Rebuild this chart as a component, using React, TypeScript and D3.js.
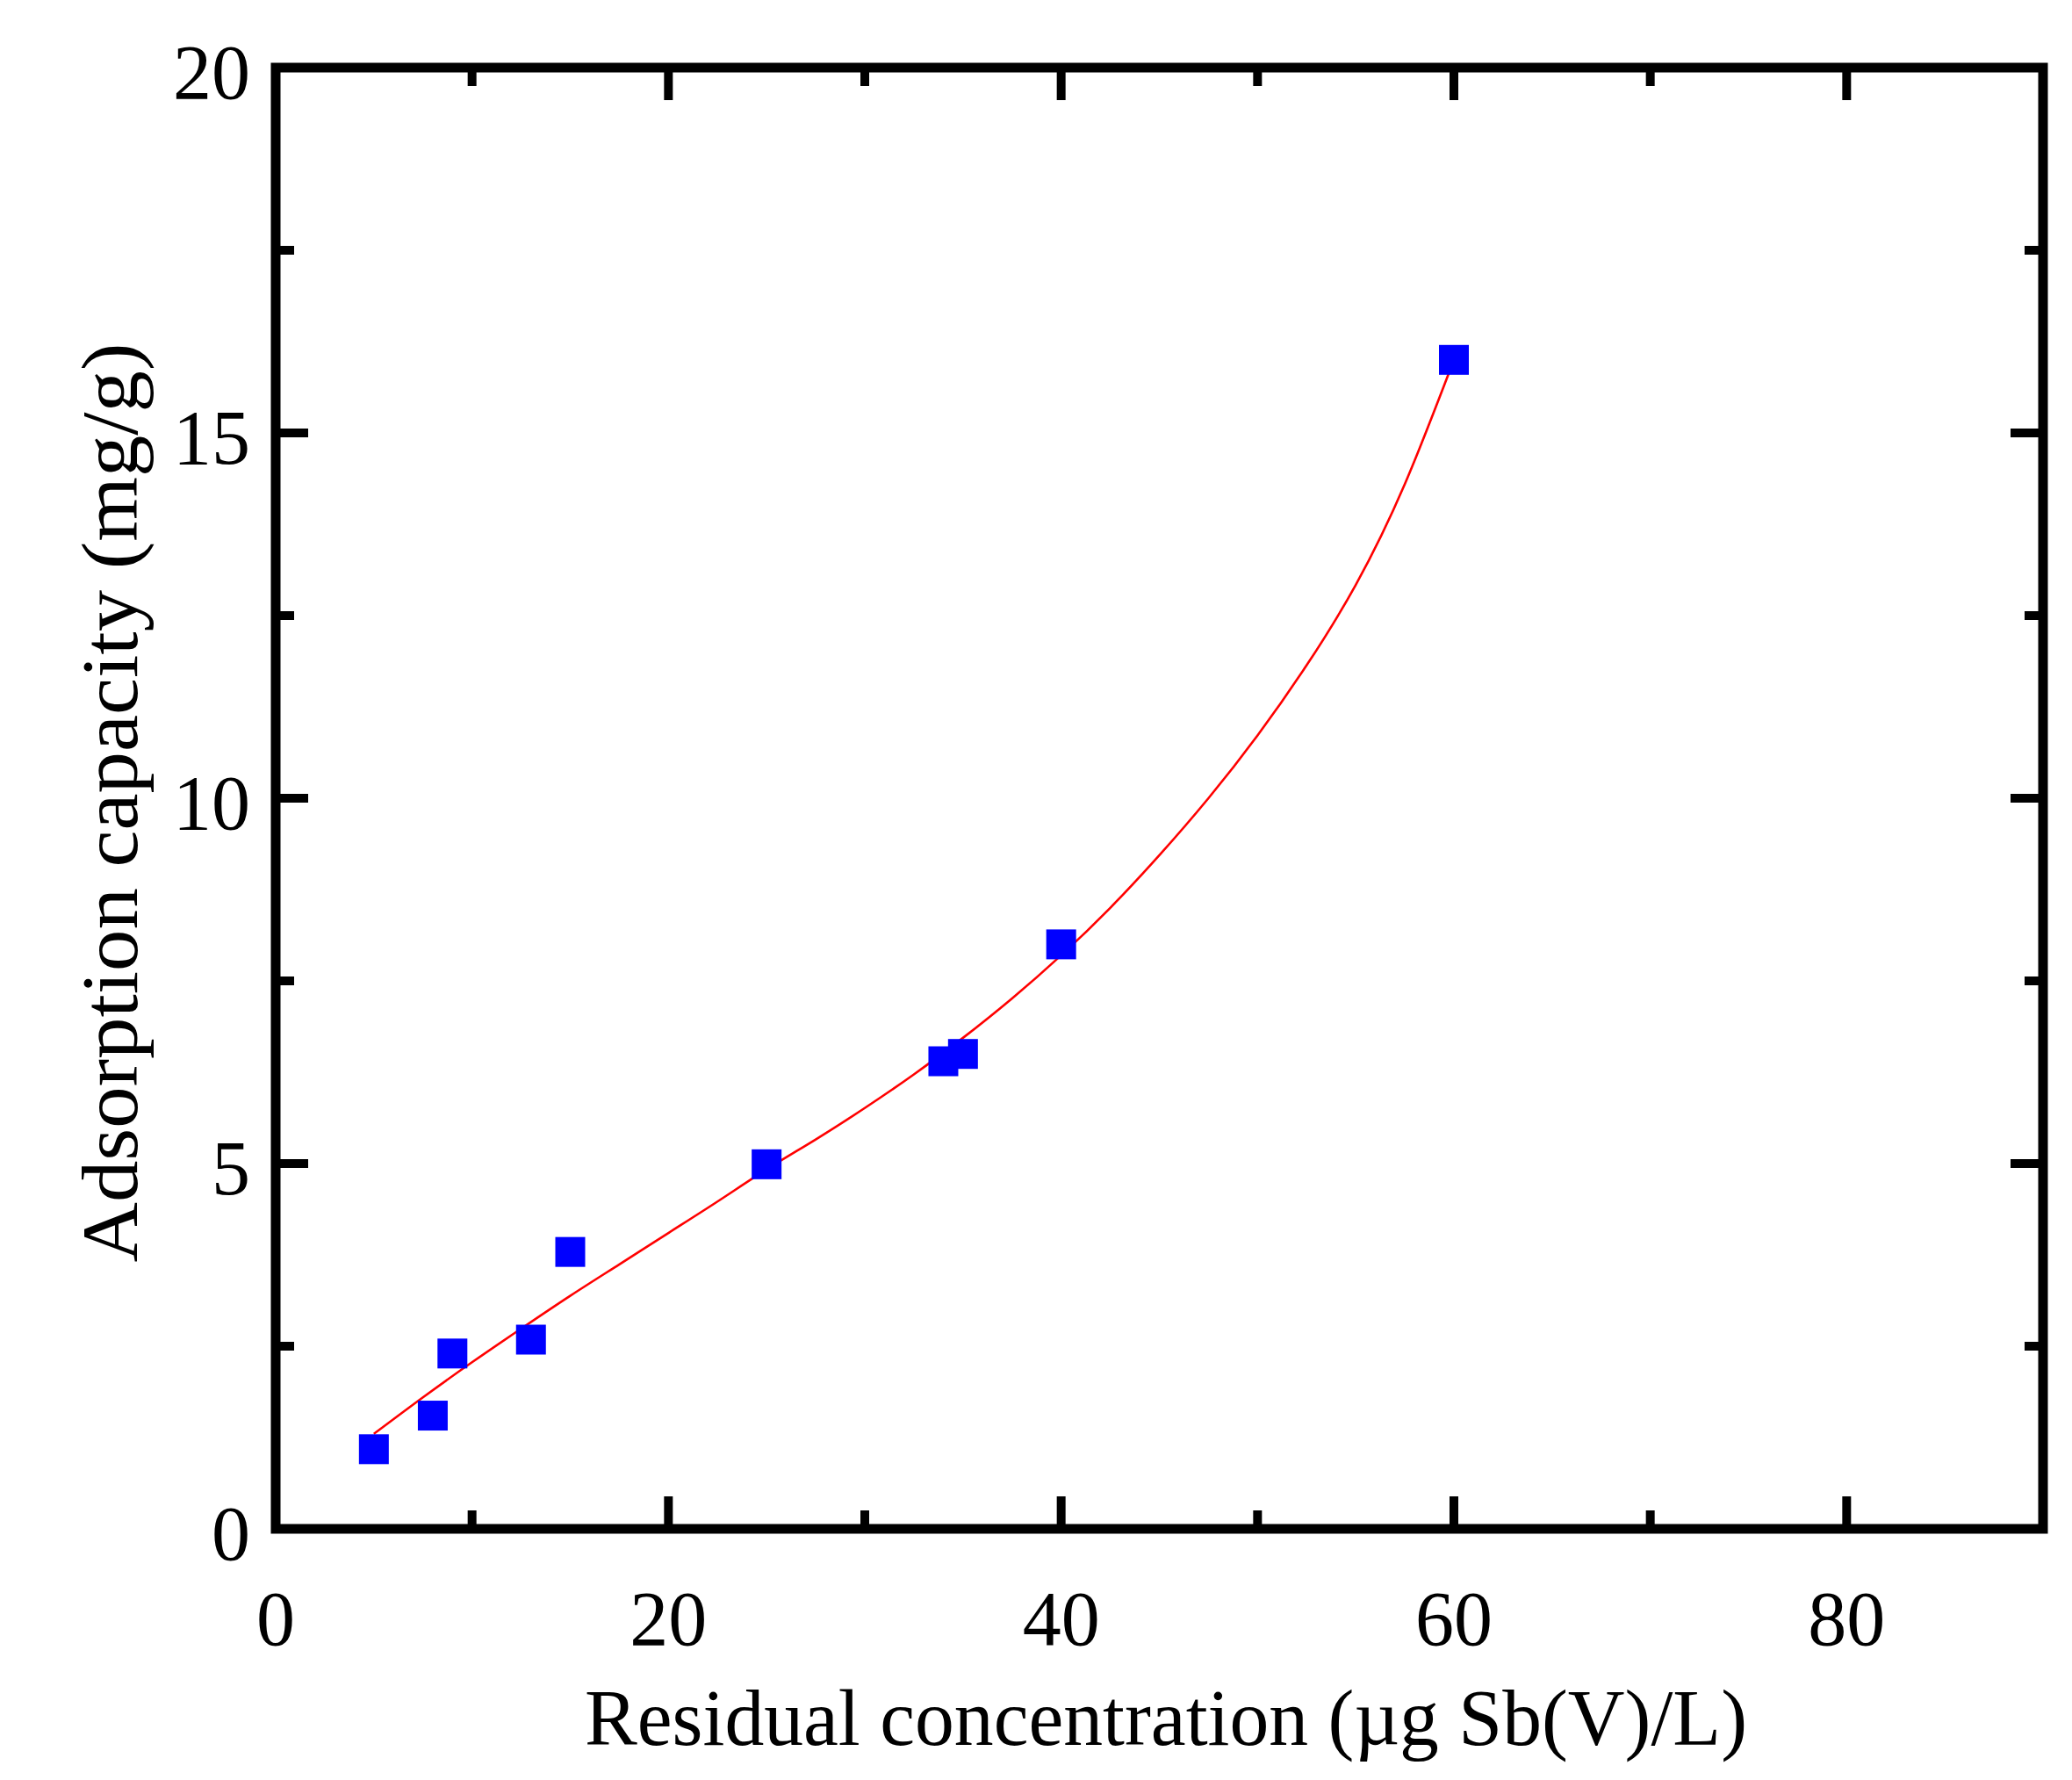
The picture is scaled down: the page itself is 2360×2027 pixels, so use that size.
import React from "react";
import * as d3 from "d3";

const W = 2360;
const H = 2027;

// Measured data (residual concentration, adsorption capacity)
const pointX = [5, 8, 9, 13, 15, 25, 34, 35, 40, 60];
const pointY = [1.09, 1.55, 2.4, 2.59, 3.79, 4.99, 6.4, 6.5, 8.0, 16.0];

// Fitted curve
const curveX = [5, 7.5, 10, 12.5, 15, 17.5, 20, 22.5, 25, 27.5, 30, 32.5, 35, 37.5, 40, 42.5, 45, 47.5, 50, 52.5, 55, 57.5, 60];
const curveY = [1.3, 1.8, 2.28, 2.74, 3.19, 3.62, 4.05, 4.48, 4.92, 5.33, 5.76, 6.22, 6.72, 7.26, 7.85, 8.5, 9.22, 10.0, 10.86, 11.82, 12.92, 14.3, 16.0];

const xMajor = [0, 20, 40, 60, 80];
const xMinor = [10, 30, 50, 70];
const yMajor = [0, 5, 10, 15, 20];
const yMinor = [2.5, 7.5, 12.5, 17.5];

const xTitle = "Residual concentration (\u00b5g Sb(V)/L)";
const yTitle = "Adsorption capacity (mg/g)";

export default function App() {
  const left = 314, right = 2327, top = 77, bottom = 1741;
  const x = d3.scaleLinear().domain([0, 90]).range([left, right]);
  const y = d3.scaleLinear().domain([0, 20]).range([bottom, top]);

  const line = d3
    .line<number>()
    .x((_, i) => x(curveX[i]))
    .y((d) => y(d))
    .curve(d3.curveNatural);

  const axisW = 11;
  const majLen = 37;
  const minLen = 21;
  const tickW = 10;
  const font = "'Liberation Serif', 'Times New Roman', serif";
  const sq = 34;

  return (
    <svg
      width={W}
      height={H}
      viewBox={`0 0 ${W} ${H}`}
      style={{ position: "absolute", left: 0, top: 0, display: "block", background: "#fff" }}
    >
      <rect x={0} y={0} width={W} height={H} fill="#fff" />
      {/* ticks */}
      <g stroke="#000" strokeWidth={tickW} strokeLinecap="butt">
        {xMajor.map((v) => (
          <g key={"xM" + v}>
            <line x1={x(v)} x2={x(v)} y1={bottom} y2={bottom - majLen} />
            <line x1={x(v)} x2={x(v)} y1={top} y2={top + majLen} />
          </g>
        ))}
        {xMinor.map((v) => (
          <g key={"xm" + v}>
            <line x1={x(v)} x2={x(v)} y1={bottom} y2={bottom - minLen} />
            <line x1={x(v)} x2={x(v)} y1={top} y2={top + minLen} />
          </g>
        ))}
        {yMajor.map((v) => (
          <g key={"yM" + v}>
            <line x1={left} x2={left + majLen} y1={y(v)} y2={y(v)} />
            <line x1={right} x2={right - majLen} y1={y(v)} y2={y(v)} />
          </g>
        ))}
        {yMinor.map((v) => (
          <g key={"ym" + v}>
            <line x1={left} x2={left + minLen} y1={y(v)} y2={y(v)} />
            <line x1={right} x2={right - minLen} y1={y(v)} y2={y(v)} />
          </g>
        ))}
      </g>
      {/* frame */}
      <rect
        x={left}
        y={top}
        width={right - left}
        height={bottom - top}
        fill="none"
        stroke="#000"
        strokeWidth={axisW}
        strokeLinejoin="miter"
      />
      {/* curve */}
      <path d={line(curveY) || ""} fill="none" stroke="#ff0000" strokeWidth={2.6} />
      {/* points */}
      <g fill="#0000ff">
        {pointX.map((v, i) => (
          <rect key={"p" + i} x={x(v) - sq / 2} y={y(pointY[i]) - sq / 2} width={sq} height={sq} />
        ))}
      </g>
      {/* tick labels */}
      <g fontFamily={font} fontSize={88} fill="#000">
        {xMajor.map((v) => (
          <text key={"xl" + v} x={x(v)} y={1873} textAnchor="middle">
            {v}
          </text>
        ))}
        {yMajor.map((v) => (
          <text key={"yl" + v} x={285} y={y(v) + 35} textAnchor="end">
            {v}
          </text>
        ))}
      </g>
      {/* axis titles */}
      <text
        x={1328}
        y={1987}
        textAnchor="middle"
        fontFamily={font}
        fontSize={92}
        textLength={1324}
        lengthAdjust="spacingAndGlyphs"
      >
        {xTitle}
      </text>
      <text
        transform={`translate(156, 914) rotate(-90)`}
        x={0}
        y={0}
        textAnchor="middle"
        fontFamily={font}
        fontSize={92}
        textLength={1047}
        lengthAdjust="spacingAndGlyphs"
      >
        {yTitle}
      </text>
    </svg>
  );
}
